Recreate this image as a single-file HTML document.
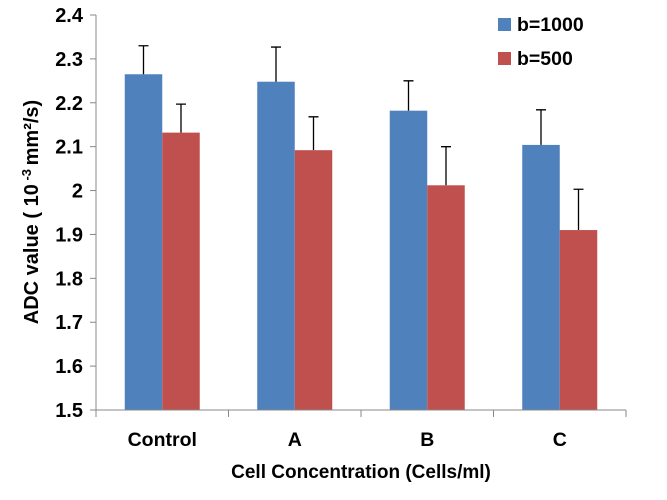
<!DOCTYPE html>
<html><head><meta charset="utf-8"><style>
body{margin:0;background:#fff;}
svg text{font-family:"Liberation Sans",Arial,sans-serif;font-weight:bold;fill:#000;}
</style></head><body>
<svg id="chart" width="667" height="495" xmlns="http://www.w3.org/2000/svg"></svg>
<script>
const categories = ["Control","A","B","C"];
const seriesNames = ["b=1000","b=500"];
const b1000 = [2.265, 2.248, 2.182, 2.104];
const b1000Err = [0.065, 0.079, 0.068, 0.080];
const b500 = [2.132, 2.092, 2.012, 1.910];
const b500Err = [0.065, 0.076, 0.088, 0.093];
const yTicks = [1.5,1.6,1.7,1.8,1.9,2,2.1,2.2,2.3,2.4];
const yTickLabels = ["1.5","1.6","1.7","1.8","1.9","2","2.1","2.2","2.3","2.4"];

const svg = document.getElementById('chart');
const NS = 'http://www.w3.org/2000/svg';
const X0 = 96, X1 = 626, Y0 = 410, Y1 = 15, YMIN = 1.5, YMAX = 2.4;
const y = v => Y0 - (v - YMIN) / (YMAX - YMIN) * (Y0 - Y1);
const band = (X1 - X0) / categories.length;
const xc = i => X0 + band * (i + 0.5);
const BW = 37.5;
function mk(tag, attrs, text){
  const e = document.createElementNS(NS, tag);
  for (const k in attrs) e.setAttribute(k, attrs[k]);
  if (text !== undefined) e.textContent = text;
  svg.appendChild(e);
  return e;
}
const colors = ["#4f81bd","#c0504d"];
const data = [b1000, b500], errs = [b1000Err, b500Err];
categories.forEach((c, i) => {
  data.forEach((arr, s) => {
    const x = xc(i) - BW + s * BW;
    const r = mk('rect', {x: x, y: y(arr[i]), width: BW, height: Y0 - y(arr[i]), fill: colors[s]});
    
    
    const cx = x + BW / 2, top = y(arr[i] + errs[s][i]);
    const g = mk('path', {d: `M${cx} ${y(arr[i])}V${top}M${cx-5} ${top}H${cx+5}`, stroke: '#000', 'stroke-width': 1.3, fill: 'none'});
    
    
  });
  const t = mk('text', {x: xc(i), y: 446, 'font-size': 19.5, 'text-anchor': 'middle'}, c);
  
  
});
const ax = mk('path', {d: `M${X0} ${Y1}V${Y0}H${X1}`, stroke: '#888', fill: 'none', 'stroke-width': 1});


yTicks.forEach((v, i) => {
  const tk = mk('path', {d: `M${X0-6} ${y(v)}H${X0}`, stroke: '#888'});
  
  
  const t = mk('text', {x: 83, y: y(v) + 7, 'font-size': 20, 'text-anchor': 'end'}, yTickLabels[i]);
  
  
});
for (let i = 0; i <= categories.length; i++) {
  const tk = mk('path', {d: `M${X0 + band*i} ${Y0}V${Y0+7}`, stroke: '#888'});
  
  
}
seriesNames.forEach((n, s) => {
  const r = mk('rect', {x: 498, y: 18 + s*34, width: 13, height: 13, fill: colors[s]});
  
  
  const t = mk('text', {x: 517, y: 31 + s*34, 'font-size': 19.5}, n);
  
  
});
const xt = mk('text', {x: 361, y: 478, 'font-size': 19, 'text-anchor': 'middle'}, 'Cell Concentration  (Cells/ml)');


const yt = mk('text', {transform: 'translate(38,212) rotate(-90)', 'font-size': 20, 'text-anchor': 'middle'});


yt.innerHTML = 'ADC value ( 10<tspan dy="-7" font-size="13"> -3 </tspan><tspan dy="7">mm²/s)</tspan>';
</script>
</body></html>
